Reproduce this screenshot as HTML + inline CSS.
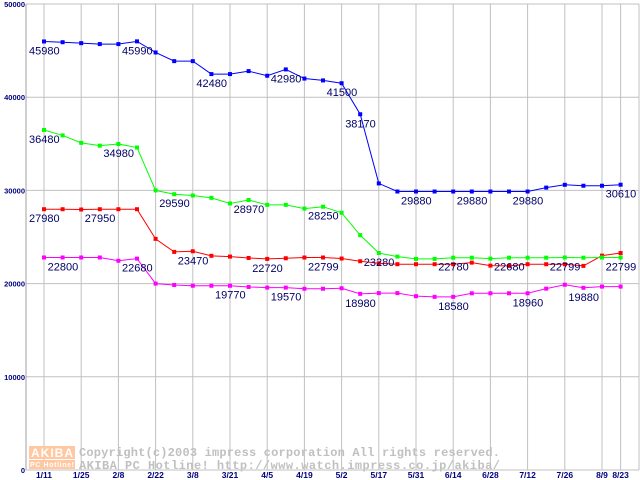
<!DOCTYPE html>
<html><head><meta charset="utf-8"><style>
html,body{margin:0;padding:0;background:#fff;}
svg{display:block;}
</style></head><body>
<svg id="chart" width="640" height="480" xmlns="http://www.w3.org/2000/svg"></svg>
<script>
const xLabels = ["1/11","1/25","2/8","2/22","3/8","3/21","4/5","4/19","5/2","5/17","5/31","6/14","6/28","7/12","7/26","8/9","8/23"];
const xLabelIdx = [0,2,4,6,8,10,12,14,16,18,20,22,24,26,28,30,31];
const yTicks = [0,10000,20000,30000,40000,50000];
const blueVals = [45980,45900,45800,45700,45700,45990,44800,43870,43870,42480,42480,42800,42300,42980,42000,41800,41500,38170,30750,29880,29880,29880,29880,29880,29880,29880,29880,30300,30600,30500,30500,30610];
const greenVals = [36480,35900,35100,34800,34980,34600,30000,29590,29450,29200,28600,28970,28450,28450,28050,28250,27600,25200,23280,22900,22650,22650,22780,22780,22680,22780,22780,22780,22799,22780,22799,22799];
const redVals = [27980,27980,27950,27980,27980,27980,24800,23400,23470,22980,22900,22750,22650,22720,22799,22799,22690,22400,22180,22080,22080,22080,22080,22250,21930,21900,22080,22080,22080,21900,23000,23280];
const magVals = [22800,22800,22800,22800,22450,22680,20000,19850,19770,19770,19770,19640,19570,19570,19450,19450,19500,18900,18980,18980,18650,18580,18580,18960,18960,18960,18960,19460,19880,19550,19680,19680];
const blueLabels = [[0,"45980"],[5,"45990"],[9,"42480"],[13,"42980"],[16,"41500"],[17,"38170"],[20,"29880"],[23,"29880"],[26,"29880"],[31,"30610"]];
const greenLabels = [[0,"36480"],[4,"34980"],[7,"29590"],[11,"28970"],[15,"28250"],[18,"23280"],[22,"22780"],[25,"22680"],[28,"22799"],[31,"22799"]];
const redLabels = [[0,"27980"],[3,"27950"],[8,"23470"],[12,"22720"],[15,"22799"]];
const magLabels = [[1,"22800"],[5,"22680"],[10,"19770"],[13,"19570"],[17,"18980"],[22,"18580"],[26,"18960"],[29,"19880"]];

const NS="http://www.w3.org/2000/svg";
const svg=document.getElementById('chart');
const X0=26,X1=639,Y0=470,Y1=4;
function xs(i){return 44+i*18.6;}
function ys(v){return Y0-(v/50000)*(Y0-Y1);}
function mk(t,a,p){const e=document.createElementNS(NS,t);for(const k in a)e.setAttribute(k,a[k]);(p||svg).appendChild(e);return e;}

const grid=mk('g',{});


yTicks.forEach(v=>{
  const l=mk('line',{x1:X0,x2:X1,y1:ys(v),y2:ys(v),stroke:'#c0c0c0','stroke-width':1},grid);
  
  
  const t=mk('text',{x:25,y:ys(v)+3,'text-anchor':'end','font-family':'Liberation Sans, sans-serif','font-size':'7.5','font-weight':'bold',fill:'#000080'});
  t.textContent=String(v);
  
  
});
xLabelIdx.forEach((idx,k)=>{
  const x=xs(idx);
  const l=mk('line',{x1:x,x2:x,y1:Y1,y2:Y0,stroke:'#c0c0c0','stroke-width':1},grid);
  
  
  const t=mk('text',{x:x,y:478,'text-anchor':'middle','font-family':'Liberation Sans, sans-serif','font-size':'8.5','font-weight':'bold',fill:'#000080'});
  t.textContent=xLabels[k];
  
  
});
const rb=mk('line',{x1:X1,x2:X1,y1:Y1,y2:Y0,stroke:'#c0c0c0'});


const ax=mk('line',{x1:X0,x2:X0,y1:Y1,y2:Y0,stroke:'#a0a0a0'});



// watermark
const wm=mk('g',{});


mk('rect',{x:29,y:446,width:46,height:13,fill:'#ffc8a0'},wm);
mk('rect',{x:29,y:460,width:46,height:9,fill:'#ffc8a0'},wm);
let w1=mk('text',{x:31,y:457,'font-family':'Liberation Sans, sans-serif','font-size':'12','font-weight':'bold',fill:'#fff','textLength':42},wm);w1.textContent='AKIBA';
let w2=mk('text',{x:30,y:467,'font-family':'Liberation Sans, sans-serif','font-size':'7','font-weight':'bold',fill:'#fff','textLength':44},wm);w2.textContent='PC Hotline!';
let w3=mk('text',{x:79,y:456,'font-family':'Liberation Mono, monospace','font-size':'12','font-weight':'bold',fill:'#c0c0c0','textLength':421},wm);w3.textContent='Copyright(c)2003 impress corporation All rights reserved.';
let w4=mk('text',{x:79,y:469,'font-family':'Liberation Mono, monospace','font-size':'12','font-weight':'bold',fill:'#c0c0c0','textLength':421},wm);w4.textContent='AKIBA PC Hotline!  http://www.watch.impress.co.jp/akiba/';

function series(vals,color,labels,name){
  const g=mk('g',{});
  
  
  const pts=vals.map((v,i)=>xs(i)+','+ys(v)).join(' ');
  const pl=mk('polyline',{points:pts,fill:'none',stroke:color,'stroke-width':1},g);
  
  
  vals.forEach((v,i)=>{
    const r=mk('rect',{x:xs(i)-2,y:ys(v)-2,width:4,height:4,fill:color},g);
    
    
  });
  labels.forEach(([i,txt])=>{
    const t=mk('text',{x:xs(i)-15,y:ys(vals[i])+13,'font-family':'Liberation Sans, sans-serif','font-size':'11',fill:'#000066'},g);
    t.textContent=txt;
    
    
  });
}
series(magVals,'#ff00ff',magLabels,'magenta-series');
series(redVals,'#ff0000',redLabels,'red-series');
series(greenVals,'#00ff00',greenLabels,'green-series');
series(blueVals,'#0000ff',blueLabels,'blue-series');
</script>
</body></html>
